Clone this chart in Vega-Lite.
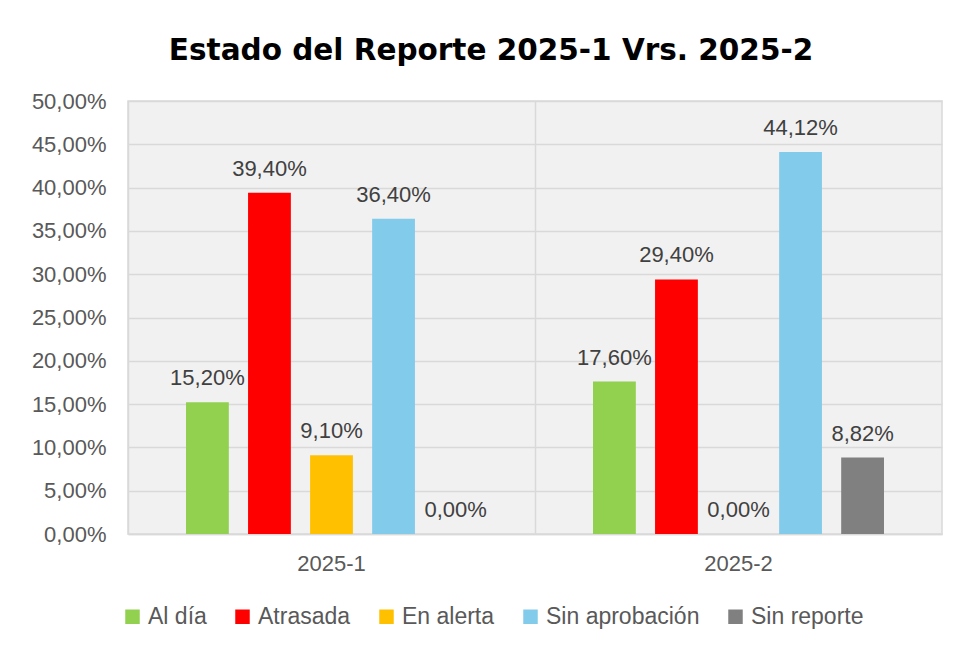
{
  "$schema": "https://vega.github.io/schema/vega-lite/v6.json",
  "autosize": {"type": "none"},
  "width": 814,
  "height": 433,
  "padding": {"left": 128, "top": 101, "right": 16, "bottom": 114},
  "background": "white",
  "title": {
    "text": "Estado del Reporte 2025-1 Vrs. 2025-2",
    "font": "DejaVu Sans",
    "fontSize": 29.5,
    "fontWeight": "bold",
    "color": "#000000",
    "anchor": "middle",
    "dx": -44,
    "offset": 24
  },
  "config": {
    "locale": {"number": {"decimal": ",", "thousands": ".", "grouping": [3], "currency": ["", " €"]}},
    "view": {"stroke": "#d9d9d9", "strokeWidth": 1.5, "fill": "#f1f1f1"},
    "font": "Liberation Sans"
  },
  "data": {
    "values": [
      {"grupo": "2025-1", "estado": "Al día", "valor": 0.152},
      {"grupo": "2025-1", "estado": "Atrasada", "valor": 0.394},
      {"grupo": "2025-1", "estado": "En alerta", "valor": 0.091},
      {"grupo": "2025-1", "estado": "Sin aprobación", "valor": 0.364},
      {"grupo": "2025-1", "estado": "Sin reporte", "valor": 0.0},
      {"grupo": "2025-2", "estado": "Al día", "valor": 0.176},
      {"grupo": "2025-2", "estado": "Atrasada", "valor": 0.294},
      {"grupo": "2025-2", "estado": "En alerta", "valor": 0.0},
      {"grupo": "2025-2", "estado": "Sin aprobación", "valor": 0.4412},
      {"grupo": "2025-2", "estado": "Sin reporte", "valor": 0.0882}
    ]
  },
  "encoding": {
    "x": {
      "field": "grupo",
      "type": "nominal",
      "scale": {"paddingInner": 0, "paddingOuter": 0},
      "axis": {
        "title": null,
        "labelAngle": 0,
        "labelFontSize": 22,
        "labelColor": "#595959",
        "labelPadding": 19,
        "ticks": false,
        "domainColor": "#d9d9d9",
        "domainWidth": 1.5,
        "grid": true,
        "gridColor": "#d9d9d9",
        "gridWidth": 1.5,
        "bandPosition": 0
      }
    },
    "xOffset": {
      "field": "estado",
      "type": "nominal",
      "sort": ["Al día", "Atrasada", "En alerta", "Sin aprobación", "Sin reporte"],
      "scale": {"paddingInner": 0.31, "paddingOuter": 0.935}
    },
    "y": {
      "field": "valor",
      "type": "quantitative",
      "scale": {"domain": [0, 0.5], "nice": false},
      "axis": {
        "title": null,
        "format": ".2%",
        "values": [0, 0.05, 0.1, 0.15, 0.2, 0.25, 0.3, 0.35, 0.4, 0.45, 0.5],
        "labelFontSize": 22,
        "labelColor": "#595959",
        "labelPadding": 22,
        "ticks": false,
        "domain": false,
        "gridColor": "#d9d9d9",
        "gridWidth": 1.5
      }
    }
  },
  "layer": [
    {
      "mark": {"type": "bar"},
      "encoding": {
        "color": {
          "field": "estado",
          "type": "nominal",
          "sort": ["Al día", "Atrasada", "En alerta", "Sin aprobación", "Sin reporte"],
          "scale": {
            "domain": ["Al día", "Atrasada", "En alerta", "Sin aprobación", "Sin reporte"],
            "range": ["#92D050", "#FF0000", "#FFC000", "#83CBEB", "#808080"]
          },
          "legend": {
            "title": null,
            "orient": "none",
            "direction": "horizontal",
            "legendX": -7,
            "legendY": 504,
            "symbolType": "square",
            "symbolSize": 210,
            "symbolStrokeWidth": 0,
            "labelFontSize": 23,
            "labelColor": "#595959",
            "columnPadding": 24,
            "labelOffset": 4
          }
        }
      }
    },
    {
      "mark": {"type": "text", "baseline": "bottom", "dy": -12, "fontSize": 22, "color": "#404040"},
      "encoding": {
        "text": {"field": "valor", "type": "quantitative", "format": ".2%"}
      }
    }
  ]
}
